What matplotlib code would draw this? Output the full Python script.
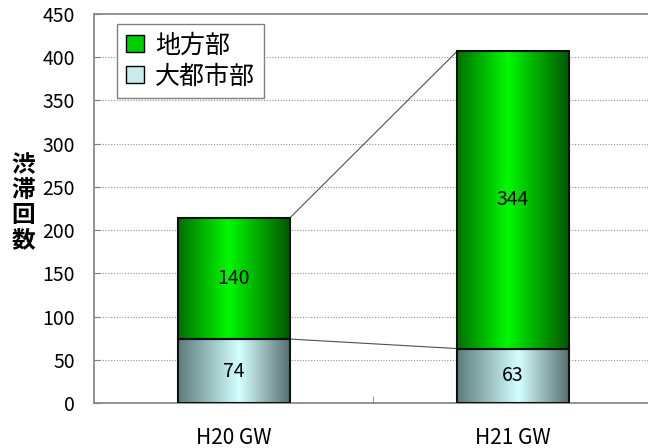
import numpy as np
import matplotlib
matplotlib.use("Agg")
import matplotlib.pyplot as plt
from matplotlib.colors import LinearSegmentedColormap
from matplotlib.patches import Patch

plt.rcParams['font.family'] = ['Noto Sans CJK JP', 'DejaVu Sans']

# datos
categorias = ['H20 GW', 'H21 GW']
daitoshi = [74, 63]      # 大都市部
chihou = [140, 344]      # 地方部
yticks = [0, 50, 100, 150, 200, 250, 300, 350, 400, 450]

ancho = 0.4

# degradados horizontales de las barras
cmap_verde = LinearSegmentedColormap.from_list(
    'verde', [(0, '#007000'), (0.45, '#00f800'), (1, '#005800')])
cmap_cian = LinearSegmentedColormap.from_list(
    'cian', [(0, '#5c7c7c'), (0.55, '#d4ffff'), (1, '#587070')])
grad = np.linspace(0, 1, 256).reshape(1, -1)

fig = plt.figure(figsize=(6.48, 4.48), dpi=100)
ax = fig.add_axes([0.1458, 0.1004, 0.861, 0.8683])

x = np.arange(len(categorias))
total = np.array(daitoshi) + np.array(chihou)

# grid punteado
for v in yticks[1:-1]:
    ax.axhline(v, color='#909090', lw=0.8, ls=(0, (1, 1.5)), zorder=0)

b1 = ax.bar(x, daitoshi, ancho, facecolor='none', edgecolor='#101010', lw=1.5, zorder=3)
b2 = ax.bar(x, chihou, ancho, bottom=daitoshi, facecolor='none', edgecolor='#101010', lw=1.5, zorder=3)

for barras, cmap in [(b1, cmap_cian), (b2, cmap_verde)]:
    for r in barras:
        x0, y0 = r.get_x(), r.get_y()
        im = ax.imshow(grad, cmap=cmap, aspect='auto', zorder=2,
                       extent=(x0, x0 + r.get_width(), y0, y0 + r.get_height()))
        im.set_clip_path(r)

# lineas de serie entre barras
ax.plot([x[0] + ancho / 2, x[1] - ancho / 2], [total[0], total[1]], color='#505050', lw=0.8, zorder=1)
ax.plot([x[0] + ancho / 2, x[1] - ancho / 2], [daitoshi[0], daitoshi[1]], color='#505050', lw=0.8, zorder=1)

# etiquetas de valores
for i in range(len(categorias)):
    ax.text(x[i], daitoshi[i] / 2, str(daitoshi[i]), ha='center', va='center', fontsize=14, zorder=4)
    ax.text(x[i], daitoshi[i] + chihou[i] / 2, str(chihou[i]), ha='center', va='center', fontsize=14, zorder=4)

ax.set_xlim(-0.5, 1.5)
ax.set_ylim(0, 450)
ax.set_yticks(yticks)
ax.tick_params(axis='y', direction='in', length=4, color='#808080', labelsize=14, pad=14)
ax.set_xticks(x)
ax.set_xticklabels(categorias, fontsize=15)
ax.tick_params(axis='x', length=0, pad=17)
ax.set_xticks([0.5], minor=True)
ax.tick_params(axis='x', which='minor', direction='in', length=5, color='#808080')

for s in ['left', 'bottom', 'top']:
    ax.spines[s].set_color('#808080')
    ax.spines[s].set_linewidth(1.2)
ax.spines['right'].set_visible(False)

fig.text(0.036, 0.547, '渋\n滞\n回\n数', ha='center', va='center', fontsize=17,
         fontweight='bold', linespacing=1.05)

handles = [Patch(facecolor='#00d000', edgecolor='black', lw=1),
           Patch(facecolor='#c8ecec', edgecolor='black', lw=1)]
leg = ax.legend(handles, ['地方部', '大都市部'], loc='upper left', bbox_to_anchor=(0.041, 0.975),
                borderaxespad=0, fontsize=18, fancybox=False, framealpha=1, edgecolor='#808080',
                handlelength=0.7, handleheight=0.7, handletextpad=0.45, labelspacing=0.2,
                borderpad=0.35)
leg.get_frame().set_linewidth(1)

fig.savefig('out.png', dpi=100)
